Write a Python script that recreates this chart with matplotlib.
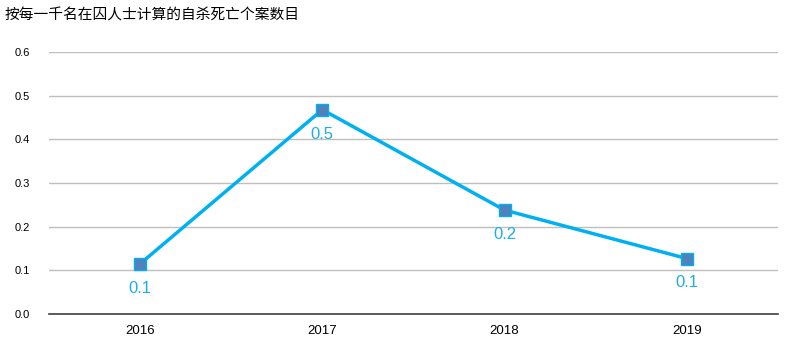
import matplotlib
matplotlib.use("Agg")
import matplotlib.pyplot as plt

plt.rcParams['font.family'] = ['Noto Sans CJK SC', 'DejaVu Sans']

title = "按每一千名在囚人士计算的自杀死亡个案数目"
years = ["2016", "2017", "2018", "2019"]
values = [0.115, 0.468, 0.238, 0.127]
yticks = [0.0, 0.1, 0.2, 0.3, 0.4, 0.5, 0.6]

fig = plt.figure(figsize=(7.89, 3.52), dpi=100)
ax = fig.add_axes([0.0621, 0.108, 0.9239, 0.744])

x = list(range(len(years)))
ax.plot(x, values, color='#00B0F0', linewidth=2.5, marker='s', markersize=8.5,
        markerfacecolor='#4F81BD', markeredgecolor='#00B0F0', markeredgewidth=1, zorder=3)
for xi, v in zip(x, values):
    ax.annotate(f"{v:.1f}", (xi, v), xytext=(0, -17.5), textcoords='offset points',
                ha='center', va='center', color='#1AAFE6', fontsize=12,
                family=['Liberation Sans', 'DejaVu Sans'])

ax.set_xlim(-0.5, len(years) - 0.5)
ax.set_ylim(0, 0.6)
ax.set_yticks(yticks)
ax.set_yticklabels([f"{t:.1f}" for t in yticks], fontsize=8, family=['Liberation Sans', 'DejaVu Sans'])
ax.set_xticks(x)
ax.set_xticklabels(years, fontsize=9.5, family=['Liberation Sans', 'DejaVu Sans'])
ax.tick_params(axis='both', length=0, pad=8)
ax.tick_params(axis='y', pad=14)
ax.grid(axis='y', color='#BFBFBF', linewidth=1)
ax.set_axisbelow(True)
for s in ['top', 'right', 'left']:
    ax.spines[s].set_visible(False)
ax.spines['bottom'].set_color('#404040')
ax.spines['bottom'].set_linewidth(1.2)

fig.text(0.006, 0.955, title, fontsize=10.6, ha='left', va='center')

fig.savefig('out.png', dpi=100)
